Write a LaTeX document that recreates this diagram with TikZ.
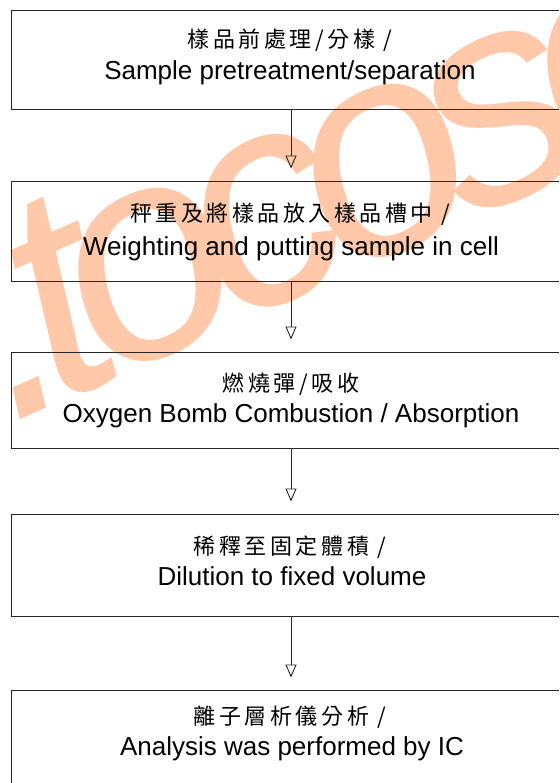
\documentclass[tikz,border=0pt]{standalone}
\usepackage{fontspec}
\setmainfont{Liberation Sans}
\newfontfamily\cjk{Noto Sans CJK TC}[LetterSpace=16]
\newfontfamily\wmfont{Liberation Sans}[LetterSpace=-10]
\usetikzlibrary{arrows.meta}
\definecolor{wmcol}{HTML}{FFC8A8}
\tikzset{
  x=1pt, y=1pt,
  stepbox/.style={draw=black!85, line width=0.9pt, minimum width=559pt, inner sep=0pt, rectangle},
  flow/.style={draw=black!85, line width=0.9pt, -{Triangle[open, width=11pt, length=13pt, line width=0.9pt]}, shorten >=12pt},
  cjkline/.style={anchor=base, inner sep=0pt, font=\cjk\fontsize{22}{26}\selectfont},
  enline/.style={anchor=base, inner sep=0pt, font=\fontsize{26}{30}\selectfont},
  watermark/.style={anchor=base west, inner sep=0pt, text=wmcol, rotate=24, font=\wmfont\itshape\fontsize{300}{320}\selectfont}
}
\begin{document}
\begin{tikzpicture}
\clip (0,0) rectangle (559,-783);
\fill[white] (0,0) rectangle (559,-783);
% watermark
\node[watermark] (wm) at (9,-425) {.tocoso};
% boxes
\node[stepbox, minimum height=99pt] (b1) at (291,-59.5) {};
\node[stepbox, minimum height=100pt] (b2) at (291,-231) {};
\node[stepbox, minimum height=96pt] (b3) at (291,-400) {};
\node[stepbox, minimum height=102pt] (b4) at (291,-565) {};
\node[stepbox, minimum height=120pt] (b5) at (291,-750) {};
% texts
\node[cjkline] (c1) at (290,-48) {樣品前處理/分樣 /};
\node[enline] (e1) at (290,-80) {Sample pretreatment/separation};
\node[cjkline] (c2) at (290,-222) {秤重及將樣品放入樣品槽中 /};
\node[enline] (e2) at (291,-255) {Weighting and putting sample in cell};
\node[cjkline] (c3) at (291,-391) {燃燒彈/吸收};
\node[enline] (e3) at (291,-422) {Oxygen Bomb Combustion / Absorption};
\node[cjkline] (c4) at (290,-554) {稀釋至固定體積 /};
\node[enline] (e4) at (292,-585) {Dilution to fixed volume};
\node[cjkline] (c5) at (290,-724) {離子層析儀分析 /};
\node[enline] (e5) at (292,-755) {Analysis was performed by IC};
% connectors
\draw[flow] (b1.south) -- (b2.north);
\draw[flow] (b2.south) -- (b3.north);
\draw[flow] (b3.south) -- (b4.north);
\draw[flow] (b4.south) -- (b5.north);
\end{tikzpicture}
\end{document}
